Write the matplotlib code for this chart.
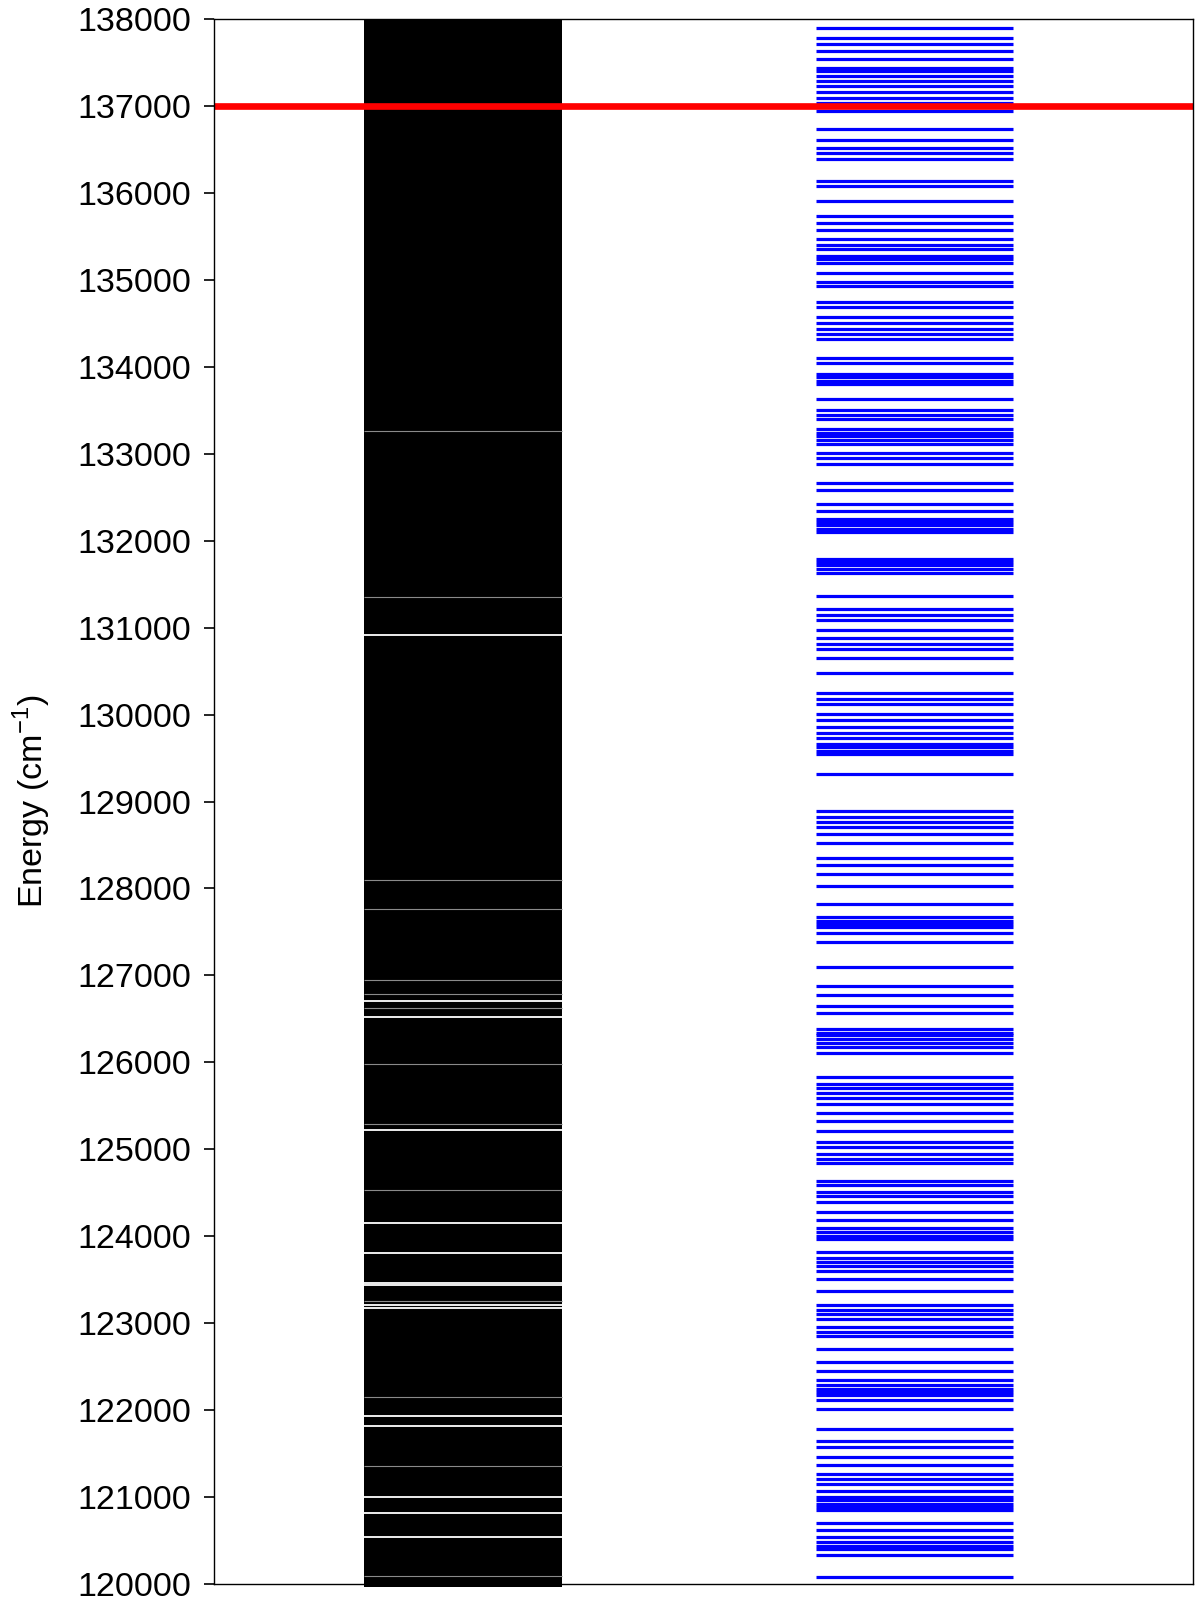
import matplotlib
matplotlib.use("Agg")
import matplotlib.pyplot as plt


# ----------------------------------------
# DATA (energies in cm^-1)
# ----------------------------------------

y_ticks = list(range(120000, 138001, 1000))

threshold = 137000

# left column: dense black band, with the few visible gaps
band_bottom = 119970
band_top = 138000

gaps_white = [
    130912, 126709, 126525, 125225, 124156, 123811, 123462, 123440,
    123210, 123170, 121932, 121817, 120997, 120820, 120537,
]

gaps_grey = [
    133262, 131357, 128098, 127761, 126947, 126786, 126621, 125985,
    125285, 124532, 123250, 122154, 121357, 120092,
]

# right column: individual levels
levels = [
    137894, 137779, 137710, 137633, 137541,
    137440, 137400, 137350, 137285, 137225, 137162, 137089,
    137040, 136990, 136940, 136736, 136605,
    136520, 136465, 136390, 136140, 136075, 135907, 135735,
    135650, 135575, 135474, 135405, 135350, 135280, 135235, 135195,
    135080, 134980, 134930, 134750, 134690, 134575, 134505, 134431,
    134380, 134315, 134097, 134040,
    133920, 133880, 133840, 133800, 133635,
    133500, 133450, 133400,
    133280, 133240, 133200, 133160, 133110,
    133012, 132947, 132878, 132666, 132583, 132418, 132345,
    132255, 132215, 132175, 132135, 132105,
    131795, 131755, 131715, 131670, 131630,
    131364, 131211, 131145, 131085, 130973, 130878, 130815, 130755,
    130655, 130475, 130245, 130176, 130118, 130007, 129938, 129861,
    129790, 129730, 129665, 129625, 129585, 129550, 129317,
    128895, 128825, 128765, 128705, 128630, 128520, 128348, 128271,
    128167, 128033, 127821,
    127670, 127630, 127590, 127555, 127491, 127388, 127094,
    126882, 126771, 126648, 126564, 126380, 126340, 126310, 126265,
    126220, 126175, 126110,
    125835, 125755, 125705, 125651, 125590, 125525, 125414, 125325,
    125210, 125085, 125025, 124950, 124885, 124838,
    124640, 124585, 124510, 124460, 124390, 124282, 124187,
    124095, 124050, 124005, 123964, 123822, 123750, 123705, 123660,
    123600, 123504, 123370, 123209,
    123150, 123100, 123050, 122950, 122900, 122855, 122703, 122557,
    122450, 122346, 122285, 122245, 122205, 122175, 122116, 122009,
    121783, 121640, 121572, 121464, 121369, 121270, 121205, 121147,
    121073, 121000, 120960, 120920, 120885, 120855, 120698, 120620,
    120545, 120485, 120440, 120400, 120334, 120077,
]


# ----------------------------------------
# PLOT
# ----------------------------------------

plt.rcParams["font.family"] = ["Liberation Sans", "DejaVu Sans"]

fig = plt.figure(figsize=(12, 16.03), dpi=100)

ax = fig.add_axes([0.178, 0.0119, 0.816, 0.9762])

ax.fill_between(
    [0.154, 0.356],
    band_bottom,
    band_top,
    color="black",
    linewidth=0,
    clip_on=False
)

ax.hlines(
    gaps_grey,
    0.154,
    0.356,
    color="#8a8a8a",
    linewidth=0.8
)

ax.hlines(
    gaps_white,
    0.154,
    0.356,
    color="white",
    linewidth=1.3
)

ax.hlines(
    levels,
    0.615,
    0.816,
    color="blue",
    linewidth=2.3
)

ax.axhline(
    threshold,
    color="red",
    linewidth=4.8
)

ax.set_xlim(0, 1)

ax.set_ylim(120000, 138000)

ax.set_xticks([])

ax.set_yticks(y_ticks)

ax.set_yticklabels([str(t) for t in y_ticks])

ax.tick_params(
    axis="y",
    labelsize=24.5,
    length=7,
    width=1.2,
    direction="out",
    pad=9
)

ax.set_ylabel(
    r"Energy (cm$^{\mathregular{-1}}$)",
    fontsize=24.5,
    labelpad=18
)

for s in ax.spines.values():
    s.set_linewidth(1.0)

fig.savefig("out.png", dpi=100)
